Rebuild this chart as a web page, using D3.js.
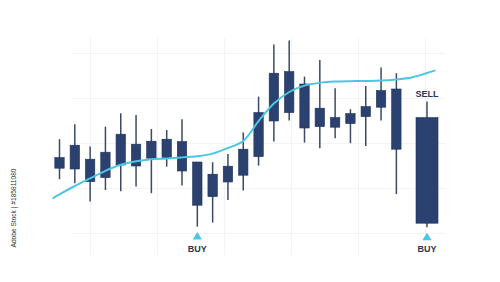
<!DOCTYPE html>
<html><head><meta charset="utf-8">
<script src="https://cdn.jsdelivr.net/npm/d3@7"></script>
<style>html,body{margin:0;padding:0;background:#fff;overflow:hidden}</style>
</head><body><svg id="c" width="500" height="282"></svg>
<script>
// ---- data ----
const sessions = [0,1,2,3,4,5,6,7,8,9,10,11,12,13,14,15,16,17,18,19,20,21,22,24];
const opens  = [40.9,52.4,45.4,36.2,42.5,52.9,45.9,46.2,54.2,44.0,26.7,34.0,37.4,46.7,64.5,68.7,83.0,70.9,66.2,63.2,66.7,71.4,80.5,66.2];
const closes = [46.2,40.5,34.2,48.9,57.9,42.0,54.4,55.4,39.5,22.4,37.9,41.9,50.4,68.7,88.4,89.2,61.0,61.7,61.4,68.2,71.7,79.7,50.4,13.4];
const highs  = [55.4,62.9,51.7,61.7,68.4,67.5,60.5,60.0,65.4,44.0,43.9,48.0,58.7,76.7,102.7,104.7,86.7,95.0,80.9,70.4,82.0,91.2,88.4,74.2];
const lows   = [35.4,33.4,24.2,30.0,29.4,31.7,28.4,41.7,32.2,11.7,13.7,25.0,29.7,42.2,54.2,64.7,53.7,50.9,55.9,53.4,52.0,64.7,28.0,11.4];
const wideCandle = [false,false,false,false,false,false,false,false,false,false,false,false,false,false,false,false,false,false,false,false,false,false,false,true];
const maSessions = [-0.4,0,1,2,3,4,5,6,7,8,9,10,11,12,13,14,15,16,17,18,19,20,21,22,23,24,24.5];
const maValues   = [26.0,27.8,32.0,35.8,39.6,42.6,44.4,45.4,45.8,46.3,46.9,48.2,51.0,54.5,64.4,73.2,79.0,82.2,83.6,84.2,84.4,84.5,84.7,85.3,86.3,88.5,89.7];
const signalSessions = [9, 24, 24];
const signalLabels = ["BUY", "BUY", "SELL"];
const watermark = "Adobe Stock | #185811080";

// ---- drawing ----
const svg = d3.select("#c");
svg.append("rect").attr("width",500).attr("height",282).attr("fill","#fff");

const x = d3.scaleLinear().domain([0,24]).range([59.5, 427]);
const y = d3.scaleLinear().domain([0,100]).range([250, 50]);

// faint decorative grid
const g = svg.append("g").attr("stroke","#f2f3f6").attr("stroke-width",1);
d3.range(90, 430, 67).forEach(px => g.append("line").attr("x1",px+0.5).attr("x2",px+0.5).attr("y1",38).attr("y2",255));
d3.range(53, 240, 45).forEach(py => g.append("line").attr("x1",72).attr("x2",446).attr("y1",py+0.5).attr("y2",py+0.5));

const navy = "#2b4270";
const cyan = "#4cc6e6";
const data = sessions.map((s,i)=>({s, o:opens[i], c:closes[i], h:highs[i], l:lows[i], wide:wideCandle[i]}));

const cg = svg.append("g");
cg.selectAll("line.wick").data(data).join("line")
  .attr("x1",d=>x(d.s)).attr("x2",d=>x(d.s))
  .attr("y1",d=>y(d.h)).attr("y2",d=>y(d.l))
  .attr("stroke","#3a4a66").attr("stroke-width",1.5);
cg.selectAll("rect.body").data(data).join("rect")
  .attr("x",d=>x(d.s)-(d.wide?11:4.7))
  .attr("width",d=>d.wide?22:9.4)
  .attr("y",d=>y(Math.max(d.o,d.c)))
  .attr("height",d=>y(Math.min(d.o,d.c))-y(Math.max(d.o,d.c)))
  .attr("fill",navy).attr("stroke","#1f3159").attr("stroke-width",0.6);

// moving average line
const line = d3.line().x((d,i)=>x(maSessions[i])).y(d=>y(d)).curve(d3.curveCatmullRom);
svg.append("path").datum(maValues).attr("d",line)
  .attr("fill","none").attr("stroke",cyan).attr("stroke-width",2).attr("stroke-linecap","round");

// signals
signalSessions.forEach((s,k)=>{
  const i = sessions.indexOf(s);
  const cx = x(s);
  const lab = signalLabels[k];
  if (lab === "SELL") {
    svg.append("text").attr("x",cx).attr("y",y(highs[i])-5)
      .attr("text-anchor","middle").attr("font-family","Liberation Sans, Arial, sans-serif")
      .attr("font-weight","bold").attr("font-size",9).attr("fill","#2a3550").text(lab);
  } else {
    const ty = y(lows[i]) + 5.5;
    svg.append("path").attr("d",`M${cx},${ty}L${cx+4.7},${ty+7.5}L${cx-4.7},${ty+7.5}Z`).attr("fill",cyan);
    svg.append("text").attr("x",cx).attr("y",ty+19.5)
      .attr("text-anchor","middle").attr("font-family","Liberation Sans, Arial, sans-serif")
      .attr("font-weight","bold").attr("font-size",9).attr("fill","#2a3550").text(lab);
  }
});

// vertical credit text
svg.append("text").attr("transform","translate(15.5,208) rotate(-90)")
  .attr("text-anchor","middle").attr("font-family","Liberation Sans, Arial, sans-serif")
  .attr("font-size",6.6).attr("fill","#333").text(watermark);
</script></body></html>
